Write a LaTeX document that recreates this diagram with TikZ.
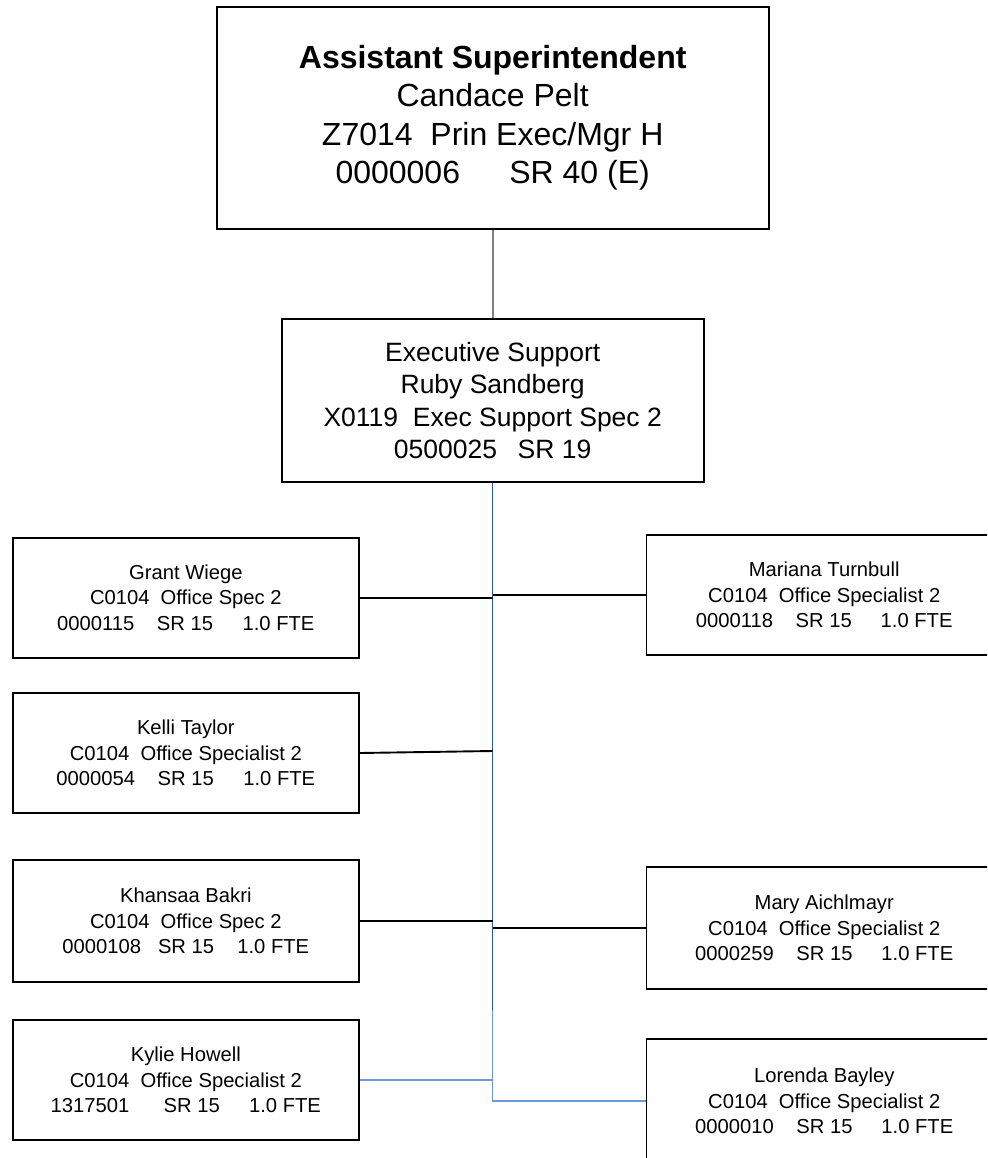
\documentclass[tikz,border=0pt]{standalone}
\usepackage{fontspec}
\setmainfont{Liberation Sans}
\definecolor{trunkblue}{RGB}{52,87,150}
\definecolor{paleblue}{RGB}{112,152,216}
\definecolor{linkgrey}{RGB}{128,128,128}
\begin{document}
\begin{tikzpicture}[x=1pt,y=-1pt,
  box/.style={draw=black, line width=1.9pt, inner sep=0pt, align=center, text=black},
  headbox/.style={box, minimum width=552pt, minimum height=222.3pt,
    font=\fontsize{32}{38.3}\selectfont},
  supportbox/.style={box, minimum width=422pt, minimum height=163pt,
    font=\fontsize{26.5}{32.3}\selectfont},
  leftbox/.style={box, minimum width=346.3pt, minimum height=120pt,
    font=\fontsize{20.2}{25.5}\selectfont},
  rightbox/.style={box, minimum width=355.5pt, minimum height=120pt,
    font=\fontsize{20.2}{25.5}\selectfont},
  link/.style={draw=black, line width=1.9pt},
  greylink/.style={draw=linkgrey, line width=2pt},
  darktrunk/.style={draw=trunkblue, line width=1.5pt},
  palelink/.style={draw=paleblue, line width=1.2pt}
]
\useasboundingbox (0,0) rectangle (987,1158);
\clip (0,0) rectangle (987,1158);

% head of the unit
\node[headbox] (head) at (492.7,117.85)
  {\textbf{Assistant Superintendent}\\
   Candace Pelt\\
   Z7014\hspace{0.556em}Prin Exec/Mgr H\\
   0000006\hspace{1.54em}SR 40 (E)};

% executive support
\node[supportbox] (support) at (492.7,400.5)
  {Executive Support\\
   Ruby Sandberg\\
   X0119\hspace{0.556em}Exec Support Spec 2\\
   0500025\hspace{0.78em}SR 19};

% left column of office specialists
\node[leftbox] (grant) at (185.85,597.7)
  {Grant Wiege\\
   C0104\hspace{0.556em}Office Spec 2\\
   0000115\hspace{1.12em}SR 15\hspace{1.46em}1.0 FTE};
\node[leftbox] (kelli) at (185.85,753)
  {Kelli Taylor\\
   C0104\hspace{0.556em}Office Specialist 2\\
   0000054\hspace{1.12em}SR 15\hspace{1.46em}1.0 FTE};
\node[leftbox, minimum height=121.7pt] (khansaa) at (185.85,920.85)
  {Khansaa Bakri\\
   C0104\hspace{0.556em}Office Spec 2\\
   0000108\hspace{0.84em}SR 15\hspace{1.15em}1.0 FTE};
\node[leftbox] (kylie) at (185.85,1080)
  {Kylie Howell\\
   C0104\hspace{0.556em}Office Specialist 2\\
   1317501\hspace{1.7em}SR 15\hspace{1.45em}1.0 FTE};

% right column of office specialists
\node[rightbox] (mariana) at (824.25,595)
  {Mariana Turnbull\\
   C0104\hspace{0.556em}Office Specialist 2\\
   0000118\hspace{1.12em}SR 15\hspace{1.43em}1.0 FTE};
\node[rightbox, minimum height=122.3pt] (mary) at (824.25,927.85)
  {Mary Aichlmayr\\
   C0104\hspace{0.556em}Office Specialist 2\\
   0000259\hspace{1.12em}SR 15\hspace{1.43em}1.0 FTE};
\node[rightbox, minimum height=124pt] (lorenda) at (824.25,1101)
  {Lorenda Bayley\\
   C0104\hspace{0.556em}Office Specialist 2\\
   0000010\hspace{1.12em}SR 15\hspace{1.43em}1.0 FTE};

% trunk points
\coordinate (kellijoin) at (492.7,751);
\coordinate (shade) at (492.7,1010);

% connectors
\draw[greylink] (head.south) -- (support.north);
\draw[darktrunk] (support.south) -- (shade);
\draw[palelink] (shade) -- (lorenda.west -| shade) -- (lorenda.west);
\draw[palelink] (kylie.east) -- (kylie.east -| shade);
\draw[link] (grant.east) -- (grant.east -| shade);
\draw[link] (mariana.west -| shade) -- (mariana.west);
\draw[link] (kelli.east) -- (kellijoin);
\draw[link] (khansaa.east) -- (khansaa.east -| shade);
\draw[link] (mary.west -| shade) -- (mary.west);
\end{tikzpicture}
\end{document}
